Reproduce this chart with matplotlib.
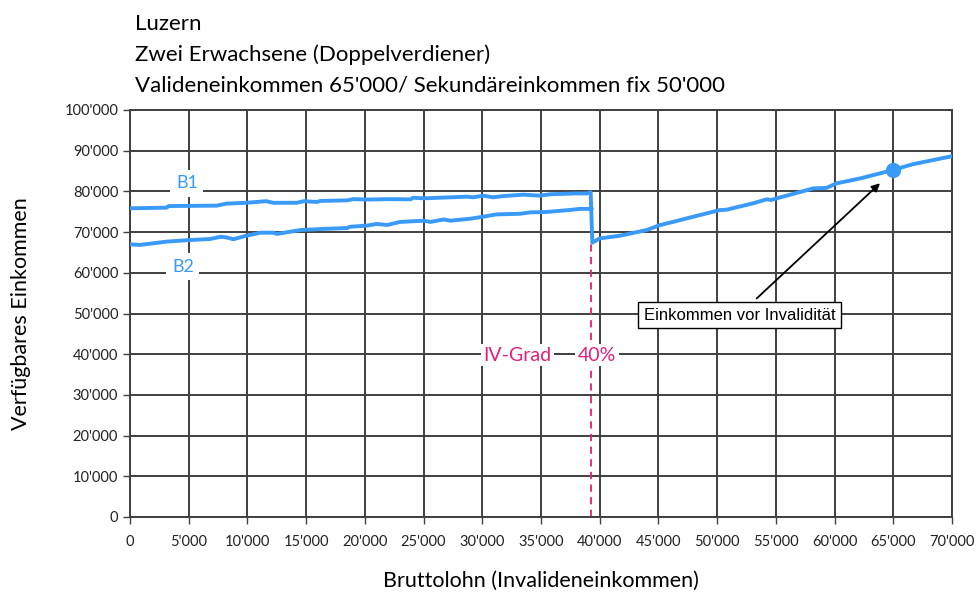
import matplotlib
matplotlib.use("Agg")
import matplotlib.pyplot as plt
from matplotlib.ticker import FuncFormatter, MultipleLocator

# Values
b1_x = [0, 3100, 3300, 7400, 8200, 9900, 11600, 12200, 14200, 14800, 15900, 16200,
        18500, 19000, 20300, 22100, 23900, 24100, 25000, 26400, 28700, 29200, 30100,
        30900, 31800, 33500, 34900, 35800, 38000, 38900, 39230, 39370]
b1_y = [75850, 76000, 76400, 76500, 77000, 77200, 77600, 77200, 77200, 77600, 77400, 77650,
        77800, 78100, 78000, 78100, 78050, 78450, 78300, 78450, 78700, 78550, 78950,
        78550, 78850, 79200, 78950, 79300, 79500, 79500, 79800, 67400]
b2_x = [0, 850, 3100, 4800, 6800, 7700, 8200, 8800, 9900, 11100, 12200, 12500, 14500,
        16200, 18500, 18700, 20200, 21000, 21900, 23000, 25000, 25600, 26700, 27300,
        29000, 29800, 30400, 31200, 33200, 34100, 35500, 37500, 38300, 39100, 39300]
b2_y = [67000, 66850, 67650, 68000, 68300, 68850, 68700, 68250, 69100, 69850, 69850, 69550,
        70500, 70750, 71000, 71300, 71600, 72000, 71750, 72500, 72800, 72500, 73100, 72800,
        73300, 73650, 73950, 74350, 74500, 74850, 74950, 75450, 75700, 75700, 75900]
after_x = [39370, 40000, 41700, 44000, 45100, 46300, 48000, 50200, 50800, 53100, 54200,
           54600, 55400, 58200, 59300, 60200, 62200, 63900, 65000, 66700, 68400, 70000]
after_y = [67400, 68450, 69100, 70500, 71700, 72550, 73800, 75400, 75500, 77100, 78050,
           77900, 78550, 80750, 80850, 82000, 83200, 84450, 85300, 86700, 87700, 88650]

valid_income = 65000
valid_value = 85300
iv_threshold = 39300
iv_value = 67400

title_lines = ["Luzern", "Zwei Erwachsene (Doppelverdiener)",
               "Valideneinkommen 65'000/ Sekundäreinkommen fix 50'000"]

BLUE = "#3A9AF8"
MAGENTA = "#E0207A"
GRID = "#3F3F3F"

plt.rcParams["font.family"] = ["Lato", "DejaVu Sans"]

fig = plt.figure(figsize=(9.79, 5.94), dpi=100)
ax = fig.add_axes([130 / 979, 1 - 517 / 594, 822 / 979, 407 / 594])

ax.plot(b1_x + after_x, b1_y + after_y, color=BLUE, lw=2.8, zorder=3,
        solid_joinstyle="round")
ax.plot(b2_x, b2_y, color=BLUE, lw=2.8, zorder=3, solid_joinstyle="round")
ax.plot([valid_income], [valid_value], "o", color=BLUE, ms=10, zorder=4)

ax.plot([iv_threshold, iv_threshold], [0, iv_value], color=MAGENTA, lw=1.3,
        ls=(0, (4, 3)), zorder=2)

ax.set_xlim(0, 70000)
ax.set_ylim(0, 100000)
ax.xaxis.set_major_locator(MultipleLocator(5000))
ax.yaxis.set_major_locator(MultipleLocator(10000))
fmt = FuncFormatter(lambda v, p: f"{int(v):,}".replace(",", "'"))
ax.xaxis.set_major_formatter(fmt)
ax.yaxis.set_major_formatter(fmt)
ax.grid(True, color=GRID, lw=1.4, zorder=1)
ax.set_axisbelow(True)
for s in ax.spines.values():
    s.set_color(GRID)
    s.set_linewidth(1.4)
ax.tick_params(axis="both", colors=GRID, length=5, width=1, labelsize=10.5,
               labelcolor="#222222")
ax.tick_params(axis="x", pad=8)

ax.set_ylabel("Verfügbares Einkommen", fontsize=15.5, labelpad=24)
ax.set_xlabel("Bruttolohn (Invalideneinkommen)", fontsize=15.5, labelpad=16)

box = dict(facecolor="white", edgecolor="none", pad=2)
ax.text(4850, 82000, "B1", color=BLUE, fontsize=13, ha="center", va="center",
        bbox=dict(facecolor="white", edgecolor="none", pad=4), zorder=5)
ax.text(4500, 61500, "B2", color=BLUE, fontsize=13, ha="center", va="center",
        bbox=dict(facecolor="white", edgecolor="none", pad=4), zorder=5)
ax.text(33000, 39800, "IV-Grad", color=MAGENTA, fontsize=14, ha="center",
        va="center", bbox=box, zorder=5)
ax.text(39770, 39800, "40%", color=MAGENTA, fontsize=14, ha="center",
        va="center", bbox=box, zorder=5)

# annotation: arrow and boxed note drawn separately
ax.annotate("", xy=(63870, 82000), xytext=(53370, 53700),
            arrowprops=dict(arrowstyle="-|>", color="black", lw=1.3,
                            mutation_scale=12, shrinkA=0, shrinkB=0),
            zorder=6)
ax.text(51920, 49600, "Einkommen vor Invalidität", fontsize=12,
        family="Liberation Sans", ha="center", va="center",
        bbox=dict(boxstyle="square,pad=0.35", facecolor="white",
                  edgecolor="black", lw=1), zorder=6)

for i, line in enumerate(title_lines):
    fig.text(135 / 979, 1 - (24 + 31 * i) / 594, line, fontsize=16,
             ha="left", va="center")

fig.savefig("out.png", dpi=100, facecolor="white")
